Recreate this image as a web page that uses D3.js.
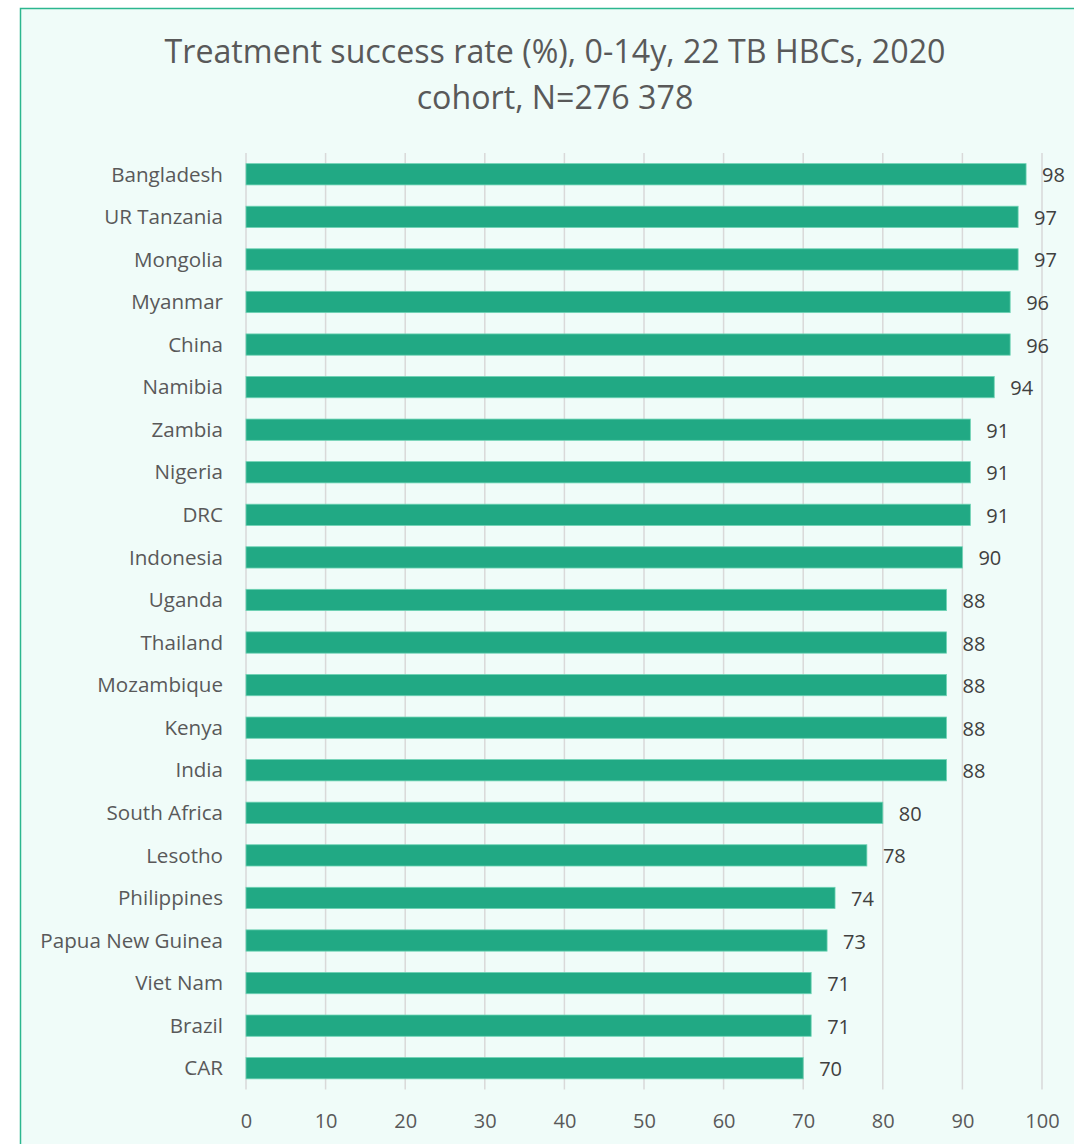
<!DOCTYPE html>
<html>
<head>
<meta charset="utf-8">
<script src="https://cdn.jsdelivr.net/npm/d3@7"></script>
<style>
  html, body { margin: 0; padding: 0; background: #ffffff; }
  svg { display: block; }
  text { font-family: "Open Sans", "Noto Sans", sans-serif; }
</style>
</head>
<body>
<svg id="chart" width="1074" height="1144"></svg>
<script>
// Treatment success rate by country, 0-14 years, 2020 cohort
const countries = [
  "Bangladesh", "UR Tanzania", "Mongolia", "Myanmar", "China", "Namibia",
  "Zambia", "Nigeria", "DRC", "Indonesia", "Uganda", "Thailand",
  "Mozambique", "Kenya", "India", "South Africa", "Lesotho", "Philippines",
  "Papua New Guinea", "Viet Nam", "Brazil", "CAR"
];
const successRate = [
  98, 97, 97, 96, 96, 94,
  91, 91, 91, 90, 88, 88,
  88, 88, 88, 80, 78, 74,
  73, 71, 71, 70
];
const xTicks = [0, 10, 20, 30, 40, 50, 60, 70, 80, 90, 100];
const titleLines = ["Treatment success rate (%), 0-14y, 22 TB HBCs, 2020", "cohort, N=276 378"];

const svg = d3.select("#chart");
const W = 1074, H = 1144;

// chart area panel
svg.append("rect")
  .attr("x", 20.5).attr("y", 8.5)
  .attr("width", W + 10).attr("height", H + 10)
  .attr("fill", "#f0fcf9")
  .attr("stroke", "#2cb68f")
  .attr("stroke-width", 1.5);

const plot = { left: 246, right: 1042, top: 153, bottom: 1089.5 };

const x = d3.scaleLinear().domain([0, 100]).range([plot.left, plot.right]);
const y = d3.scaleBand().domain(countries).range([plot.top, plot.bottom]).paddingInner(0.5).paddingOuter(0.25);

// title
svg.append("g").selectAll("text")
  .data(titleLines)
  .join("text")
  .attr("x", 555)
  .attr("y", (d, i) => 63 + i * 46)
  .attr("text-anchor", "middle")
  .attr("fill", "#595959")
  .attr("font-size", 32.2)
  .text(d => d);

// vertical gridlines
svg.append("g").selectAll("line")
  .data(xTicks)
  .join("line")
  .attr("x1", d => x(d)).attr("x2", d => x(d))
  .attr("y1", plot.top).attr("y2", plot.bottom)
  .attr("stroke", "#d9d9d9")
  .attr("stroke-width", 1.5);

// x axis tick labels
const xAxis = d3.axisBottom(x).tickValues(xTicks).tickSize(0).tickPadding(0);
const gx = svg.append("g")
  .attr("transform", `translate(0,${plot.bottom})`)
  .call(xAxis);
gx.select(".domain").remove();
gx.selectAll("text")
  .attr("dy", null)
  .attr("y", 38)
  .attr("fill", "#595959")
  .attr("font-size", 20)
  .attr("font-family", "\"Open Sans\", sans-serif");

// y axis category labels
const yAxis = d3.axisLeft(y).tickSize(0).tickPadding(0);
const gy = svg.append("g")
  .attr("transform", `translate(223,0)`)
  .call(yAxis);
gy.select(".domain").remove();
gy.selectAll("text")
  .attr("dy", "0.35em")
  .attr("fill", "#595959")
  .attr("font-size", 20.6)
  .attr("font-family", "\"Open Sans\", sans-serif");

// bars
svg.append("g").selectAll("rect")
  .data(countries)
  .join("rect")
  .attr("x", x(0))
  .attr("y", d => y(d))
  .attr("width", (d, i) => x(successRate[i]) - x(0))
  .attr("height", y.bandwidth())
  .attr("fill", "#21a984")
  .attr("stroke", "#6fd3b5")
  .attr("stroke-width", 0.8);

// value labels
svg.append("g").selectAll("text")
  .data(countries)
  .join("text")
  .attr("x", (d, i) => x(successRate[i]) + 16)
  .attr("y", d => y(d) + y.bandwidth() / 2 + 1)
  .attr("dy", "0.35em")
  .attr("fill", "#404040")
  .attr("font-size", 20)
  .text((d, i) => successRate[i]);
</script>
</body>
</html>
